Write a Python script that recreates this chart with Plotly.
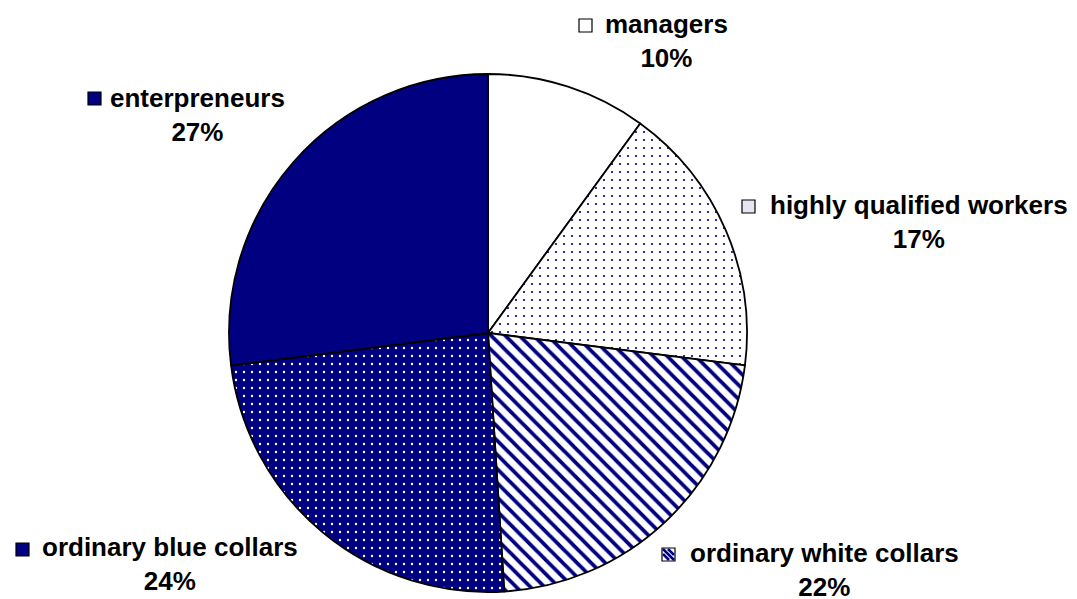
import plotly.graph_objects as go

W, H = 1077, 599

categories = ["managers", "highly qualified workers", "ordinary white collars",
              "ordinary blue collars", "enterpreneurs"]
shares = [10, 17, 22, 24, 27]
pct_labels = ["10%", "17%", "22%", "24%", "27%"]

NAVY = "#000080"

def px(x):
    return x / W

def py(y):
    return 1 - y / H

# pie geometry (pixels)
cx, cy, r = 488, 333, 259

fig = go.Figure()
fig.add_trace(go.Pie(
    labels=categories,
    values=shares,
    sort=False,
    direction="clockwise",
    rotation=0,
    textinfo="none",
    hoverinfo="label+percent",
    showlegend=False,
    domain=dict(x=[px(cx - r), px(cx + r)], y=[py(cy + r), py(cy - r)]),
    marker=dict(
        colors=["white", "white", "white", NAVY, NAVY],
        line=dict(color="black", width=1.8),
        pattern=dict(
            shape=["", ".", "\\", ".", ""],
            bgcolor=["white", "white", "white", NAVY, NAVY],
            fgcolor=[NAVY, NAVY, NAVY, "white", NAVY],
            size=[8, 8, 10, 8, 8],
            solidity=[0.1, 0.06, 0.38, 0.07, 0.1],
            fillmode="replace",
        ),
    ),
))

# label placement (pixels): text block center, key square top-left
label_pos = [
    (666, 41.5, 579, 19),
    (919, 222, 742, 200),
    (824, 570, 662, 548),
    (170, 564, 16, 543),
    (197, 114.5, 88, 92),
]
key_fill = ["white", "#e6e6f2", "white", NAVY, NAVY]

FONT = dict(family="Liberation Sans, Arial, sans-serif", size=26, color="black")

for i, (tx, ty, kx, ky) in enumerate(label_pos):
    fig.add_annotation(
        x=px(tx), y=py(ty), xref="paper", yref="paper",
        text=f"<b>{categories[i]}</b><br><b>{pct_labels[i]}</b>",
        showarrow=False, xanchor="center", yanchor="middle",
        align="center", font=FONT,
    )
    fig.add_shape(
        type="rect", xref="paper", yref="paper",
        x0=px(kx), x1=px(kx + 13), y0=py(ky + 13), y1=py(ky),
        fillcolor=key_fill[i], line=dict(color="black", width=1.2),
    )

# diagonal stripes in the white-collar key
kx, ky = label_pos[2][2], label_pos[2][3]
for off in (0, 5):
    fig.add_shape(type="line", xref="paper", yref="paper",
                  x0=px(kx + 1 + off), y0=py(ky + 1), x1=px(kx + 12), y1=py(ky + 12 - off),
                  line=dict(color=NAVY, width=2.5))
fig.add_shape(type="line", xref="paper", yref="paper",
              x0=px(kx + 1), y0=py(ky + 6), x1=px(kx + 7), y1=py(ky + 12),
              line=dict(color=NAVY, width=2.5))

fig.update_layout(
    width=W, height=H,
    margin=dict(l=0, r=0, t=0, b=0),
    paper_bgcolor="white",
    plot_bgcolor="white",
)

fig.write_html("out.html", post_script="document.body.style.margin='0';",
               config={"displayModeBar": False})
